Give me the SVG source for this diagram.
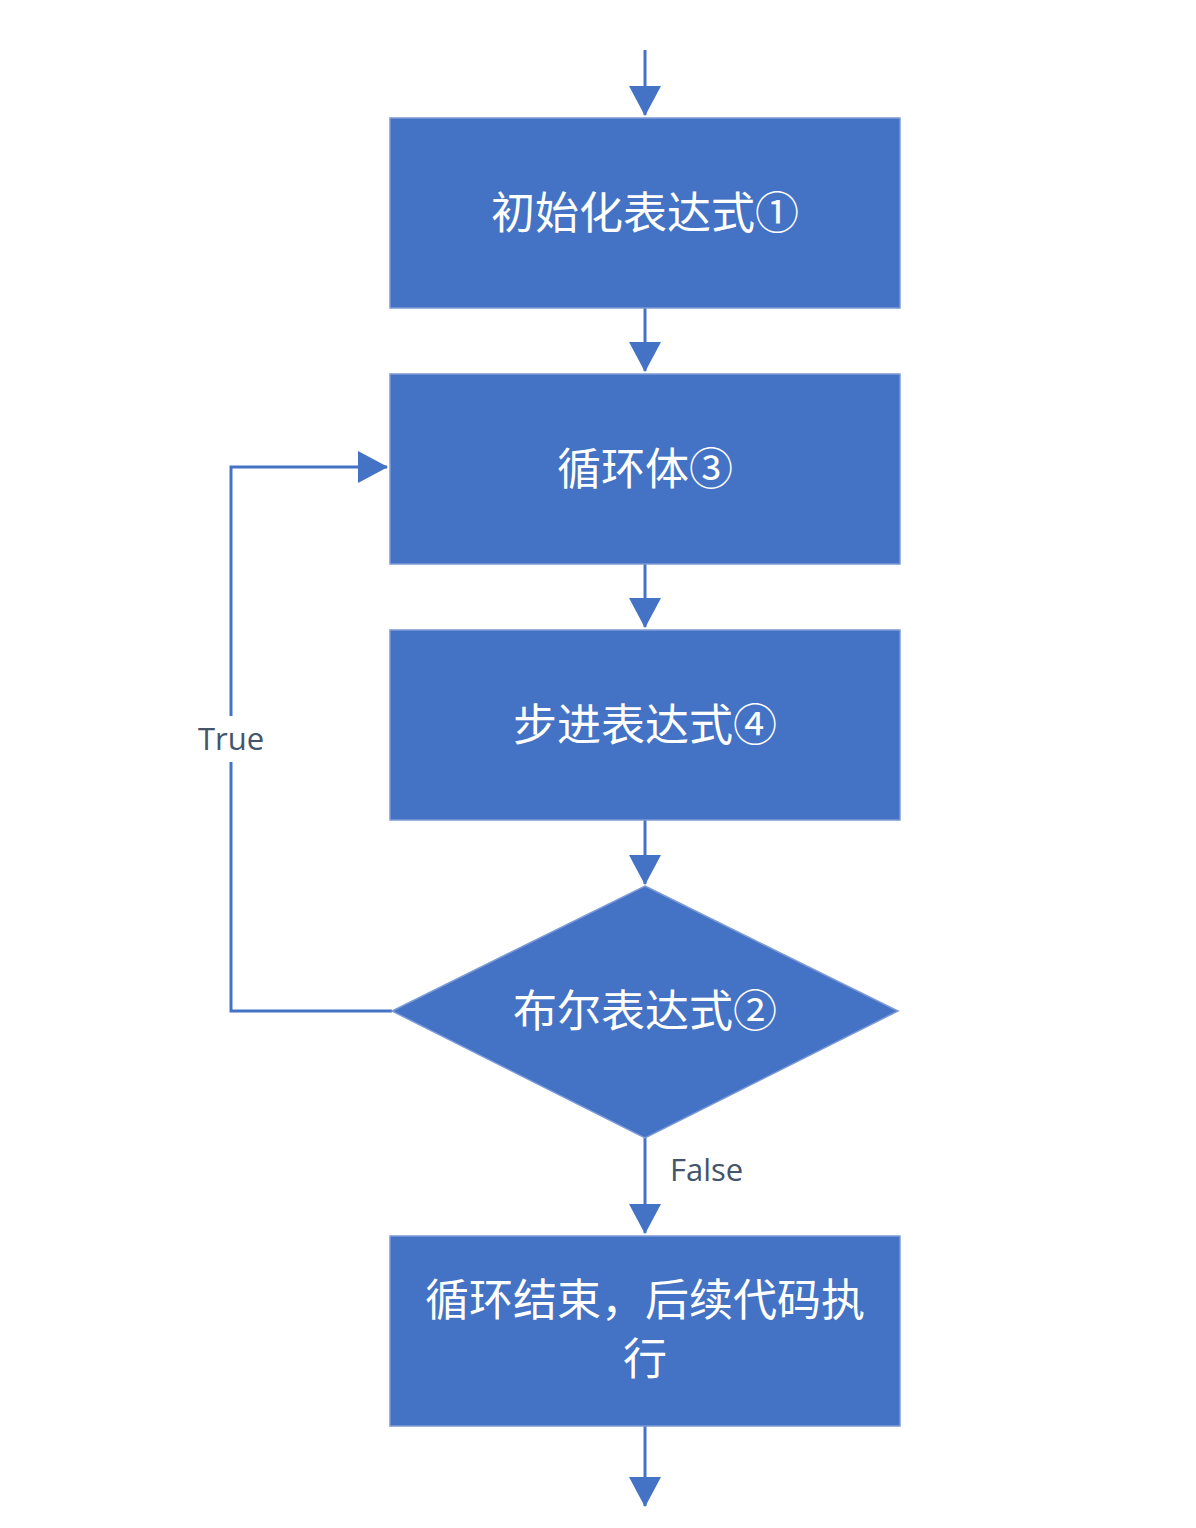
<svg xmlns="http://www.w3.org/2000/svg" width="1196" height="1528" viewBox="0 0 1196 1528">
<style>
.box{fill:#4472C4;stroke:#7d9bd6;stroke-width:1.5}
.t{font-family:"Microsoft YaHei","Noto Sans CJK SC",sans-serif;font-size:44px;fill:#ffffff;text-anchor:middle}
.c{fill:none;stroke:#4472C4;stroke-width:3}
.lbl{font-family:"Open Sans","Noto Sans",sans-serif;font-size:31px;fill:#44546A}
</style>
<defs>
<marker id="ah" viewBox="0 0 30 32" refX="29" refY="16" markerWidth="30" markerHeight="32" markerUnits="userSpaceOnUse" orient="auto">
<path d="M0,0 L30,16 L0,32 Z" fill="#4472C4"/>
</marker>
</defs>
<rect width="1196" height="1528" fill="#ffffff"/>
<g id="connectors">
<path class="c" d="M645 50 V115" marker-end="url(#ah)"/>
<path class="c" d="M645 308 V371" marker-end="url(#ah)"/>
<path class="c" d="M645 564 V627" marker-end="url(#ah)"/>
<path class="c" d="M645 820 V884" marker-end="url(#ah)"/>
<path class="c" d="M645 1138 V1233" marker-end="url(#ah)"/>
<path class="c" d="M645 1426 V1506" marker-end="url(#ah)"/>
<path class="c" d="M392 1011 H231 V467 H387" marker-end="url(#ah)"/>
<rect x="195" y="716" width="72" height="46" fill="#ffffff"/>
<text class="lbl" x="231" y="750" text-anchor="middle">True</text>
<text class="lbl" x="670" y="1181">False</text>
</g>
<g id="init">
<rect class="box" x="390" y="118" width="510" height="190"/>
<text class="t" x="645" y="229">初始化表达式①</text>
</g>
<g id="body">
<rect class="box" x="390" y="374" width="510" height="190"/>
<text class="t" x="645" y="485">循环体③</text>
</g>
<g id="step">
<rect class="box" x="390" y="630" width="510" height="190"/>
<text class="t" x="645" y="741">步进表达式④</text>
</g>
<g id="cond">
<polygon class="box" points="645,886 898,1011 645,1138 392,1011"/>
<text class="t" x="645" y="1027">布尔表达式②</text>
</g>
<g id="end">
<rect class="box" x="390" y="1236" width="510" height="190"/>
<text class="t" x="645" y="1316">循环结束，后续代码执</text>
<text class="t" x="645" y="1375">行</text>
</g>
</svg>
